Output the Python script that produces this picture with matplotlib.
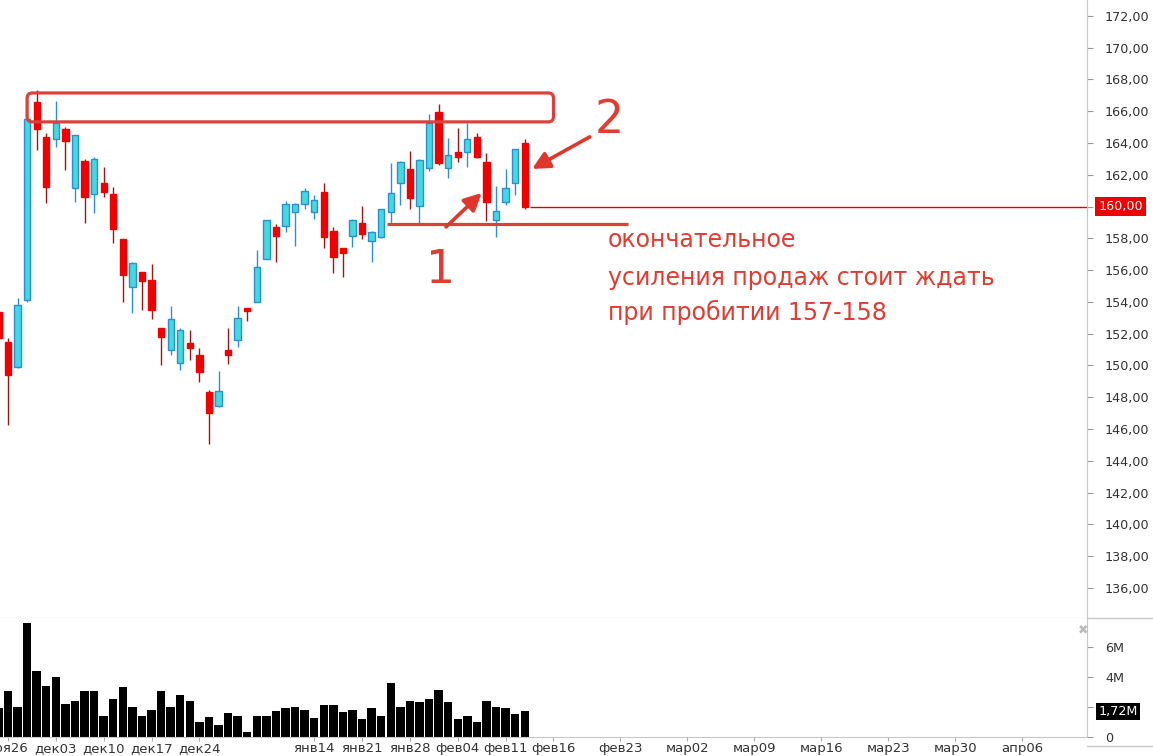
import numpy as np
import matplotlib.pyplot as plt
from matplotlib.patches import FancyBboxPatch
from matplotlib.lines import Line2D
from matplotlib.transforms import blended_transform_factory

# daily candles (price), volumes in millions
opens = [153.37, 151.48, 149.91, 154.13, 166.59, 164.39, 164.26, 164.89, 161.18, 162.87,
         160.80, 161.49, 160.80, 157.97, 154.95, 155.89, 155.39, 152.37, 150.98, 150.16,
         151.42, 150.67, 148.34, 147.46, 150.98, 151.61, 153.62, 154.00, 156.71, 158.72,
         158.78, 159.67, 160.17, 159.67, 160.92, 158.47, 157.40, 158.15, 158.97, 157.84,
         158.09, 159.67, 161.49, 162.37, 160.04, 162.43, 165.96, 162.43, 163.44, 163.44,
         164.39, 162.81, 159.16, 160.29, 161.49, 164.01]
highs = [153.45, 151.74, 154.25, 165.52, 167.34, 164.64, 166.65, 165.01, 164.51, 163.00,
         163.13, 162.50, 161.24, 157.97, 156.50, 155.89, 156.39, 152.37, 153.75, 152.37,
         152.24, 151.11, 148.46, 149.66, 152.37, 153.75, 153.62, 157.27, 159.16, 158.91,
         160.36, 160.20, 161.18, 160.74, 161.49, 158.72, 157.40, 159.20, 160.04, 158.45,
         159.85, 162.75, 162.85, 163.50, 163.00, 165.83, 166.46, 164.32, 164.95, 165.27,
         164.64, 163.38, 161.30, 162.37, 163.65, 164.26]
lows = [151.60, 146.26, 149.85, 154.00, 163.57, 160.23, 163.76, 162.31, 160.29, 158.97,
        159.60, 160.61, 157.71, 154.00, 153.31, 153.50, 152.93, 150.04, 150.67, 149.72,
        150.35, 148.97, 145.06, 147.40, 150.10, 151.17, 152.81, 154.00, 156.71, 156.52,
        158.40, 157.53, 159.85, 159.22, 157.40, 155.83, 155.57, 157.46, 157.97, 156.52,
        158.03, 158.91, 160.11, 159.85, 158.97, 162.25, 162.62, 161.80, 162.81, 162.50,
        163.06, 159.10, 158.09, 160.11, 160.74, 159.85]
closes = [151.74, 149.41, 153.81, 165.52, 164.89, 161.24, 165.27, 164.13, 164.51, 160.61,
          163.00, 160.92, 158.60, 155.70, 156.46, 155.32, 153.50, 151.80, 152.93, 152.24,
          151.11, 149.60, 147.02, 148.40, 150.67, 153.00, 153.44, 156.20, 159.16, 158.15,
          160.17, 160.17, 160.99, 160.42, 158.09, 156.83, 157.09, 159.16, 158.28, 158.41,
          159.85, 160.86, 162.81, 160.55, 162.94, 165.27, 162.75, 163.25, 163.13, 164.26,
          163.13, 160.29, 159.73, 161.18, 163.63, 160.00]
volumes = [1.9, 3.05, 2.0, 7.6, 4.4, 3.4, 4.0, 2.2, 2.4, 3.05, 3.05, 1.37, 2.5, 3.3, 2.0,
           1.37, 1.83, 3.05, 2.0, 2.77, 2.43, 1.03, 1.3, 0.83, 1.63, 1.43, 0.3, 1.43, 1.43,
           1.7, 1.9, 2.0, 1.8, 1.25, 2.1, 2.1, 1.65, 1.83, 1.17, 1.93, 1.43, 3.6, 1.97, 2.4,
           2.3, 2.5, 3.1, 2.3, 1.17, 1.37, 0.97, 2.4, 1.97, 1.9, 1.5, 1.72]

tick_pos = [1, 6, 11, 16, 21, 33, 38, 43, 48, 53, 58, 65, 72, 79, 86, 93, 100, 107]
tick_lab = ['ноя26', 'дек03', 'дек10', 'дек17', 'дек24', 'янв14', 'янв21', 'янв28',
            'фев04', 'фев11', 'фев16', 'фев23', 'мар02', 'мар09', 'мар16', 'мар23',
            'мар30', 'апр06']
last_price = 160.00
last_volume = 1.72
zone_low, zone_high = 165.33, 167.15
support = 158.91

o = np.array(opens)
h = np.array(highs)
l = np.array(lows)
c = np.array(closes)
x = np.arange(len(o))
up = c >= o

red = '#f00000'
red_wick = '#a01515'
cyan = '#45d9dd'
blue = '#2b8fd6'
grey = '#c8c8c8'
note = '#e03c31'

fig = plt.figure(figsize=(11.53, 7.56), dpi=100)
ax = fig.add_axes([0, 138 / 756, 1087 / 1153, 618 / 756])
axv = fig.add_axes([0, 19 / 756, 1087 / 1153, 119 / 756], sharex=ax)

# candles
body_lo = np.minimum(o, c)
body_h = np.maximum(np.abs(c - o), 0.08)
ax.vlines(x[up], l[up], h[up], color=blue, lw=1)
ax.vlines(x[~up], l[~up], h[~up], color=red_wick, lw=1)
ax.bar(x[up], body_h[up], 0.66, bottom=body_lo[up], color=cyan, edgecolor=blue, lw=1, zorder=3)
ax.bar(x[~up], body_h[~up], 0.66, bottom=body_lo[~up], color=red, edgecolor=red, lw=1, zorder=3)

# volume
axv.bar(x, volumes, 0.88, color='black')

xmin, xmax = 0.167, 113.75
ax.set_xlim(xmin, xmax)
ax.set_ylim(134.11, 173.0)
axv.set_ylim(0, 7.93)

# price axis
ax.yaxis.tick_right()
yt = np.arange(136, 173, 2)
ax.set_yticks(yt)
ax.set_yticklabels(['' if v == last_price else f'{v:.2f}'.replace('.', ',') for v in yt])
ax.tick_params(axis='y', direction='out', length=4, color='#999999', labelcolor='#333333',
               labelsize=9.2, pad=9)
ax.tick_params(axis='x', bottom=False, labelbottom=False)
for s in ['top', 'left']:
    ax.spines[s].set_visible(False)
ax.spines['right'].set_color(grey)
ax.spines['bottom'].set_color(grey)

# volume axis
axv.yaxis.tick_right()
axv.set_yticks([0, 2, 4, 6])
axv.set_yticklabels(['0', '2M', '4M', '6M'])
axv.tick_params(axis='y', direction='out', length=4, color='#999999', labelcolor='#333333',
                labelsize=9.2, pad=9)
axv.set_xticks(tick_pos)
axv.set_xticklabels(tick_lab)
axv.tick_params(axis='x', direction='out', length=3, color='#aaaaaa', labelcolor='#333333',
                labelsize=9.5, pad=0.5)
for s in ['top', 'left']:
    axv.spines[s].set_visible(False)
axv.spines['right'].set_color(grey)
axv.spines['bottom'].set_color(grey)

fig.add_artist(Line2D([1087 / 1153, 1], [138 / 756, 138 / 756], color=grey, lw=1))
fig.add_artist(Line2D([1087 / 1153, 1], [10 / 756, 10 / 756], color=grey, lw=1))
fig.text(1083 / 1153, 1 - 630 / 756, '\u2716', color='#bbbbbb', fontsize=9,
         ha='center', va='center')

# last price line and labels
ax.hlines(last_price, 55.5, xmax, color='#e00000', lw=1, zorder=4)
bt = blended_transform_factory(ax.transAxes, ax.transData)
ax.text(1.0105, last_price, f'{last_price:.2f}'.replace('.', ','), transform=bt,
        color='white', fontsize=9.2, va='center', ha='left', clip_on=False, zorder=10,
        bbox=dict(boxstyle='square,pad=0.25', fc='#f00000', ec='none'))
btv = blended_transform_factory(axv.transAxes, axv.transData)
axv.text(1.0105, last_volume, f'{last_volume:.2f}M'.replace('.', ','), transform=btv,
         color='white', fontsize=9.2, va='center', ha='left', clip_on=False, zorder=10,
         bbox=dict(boxstyle='square,pad=0.15', fc='black', ec='none'))

# resistance zone
ax.add_patch(FancyBboxPatch((3.0, zone_low), 55.0, zone_high - zone_low,
                            boxstyle='round,pad=0,rounding_size=0.55', mutation_aspect=0.6,
                            fc='none', ec='#d9413b', lw=2.3, zorder=5))
# support line
ax.hlines(support, 40.6, 65.8, color='#d9413b', lw=2.3, zorder=5)

# arrows
arrow = dict(arrowstyle='-|>', color='#e0372c', lw=2.6, mutation_scale=26, shrinkA=0, shrinkB=0)
ax.annotate('', xy=(50.5, 160.86), xytext=(46.77, 158.72), arrowprops=arrow, zorder=6)
ax.annotate('', xy=(55.76, 162.37), xytext=(61.8, 164.39), arrowprops=arrow, zorder=6)

ax.text(46.25, 156.0, '1', color=note, fontsize=33, ha='center', va='center')
ax.text(63.8, 165.4, '2', color=note, fontsize=33, ha='center', va='center')
ax.text(63.7, 157.9, 'окончательное', color=note, fontsize=17, ha='left', va='center')
ax.text(63.7, 155.51, 'усиления продаж стоит ждать', color=note, fontsize=17,
        ha='left', va='center')
ax.text(63.7, 153.31, 'при пробитии 157-158', color=note, fontsize=17,
        ha='left', va='center')

fig.savefig('out.png', dpi=100)
